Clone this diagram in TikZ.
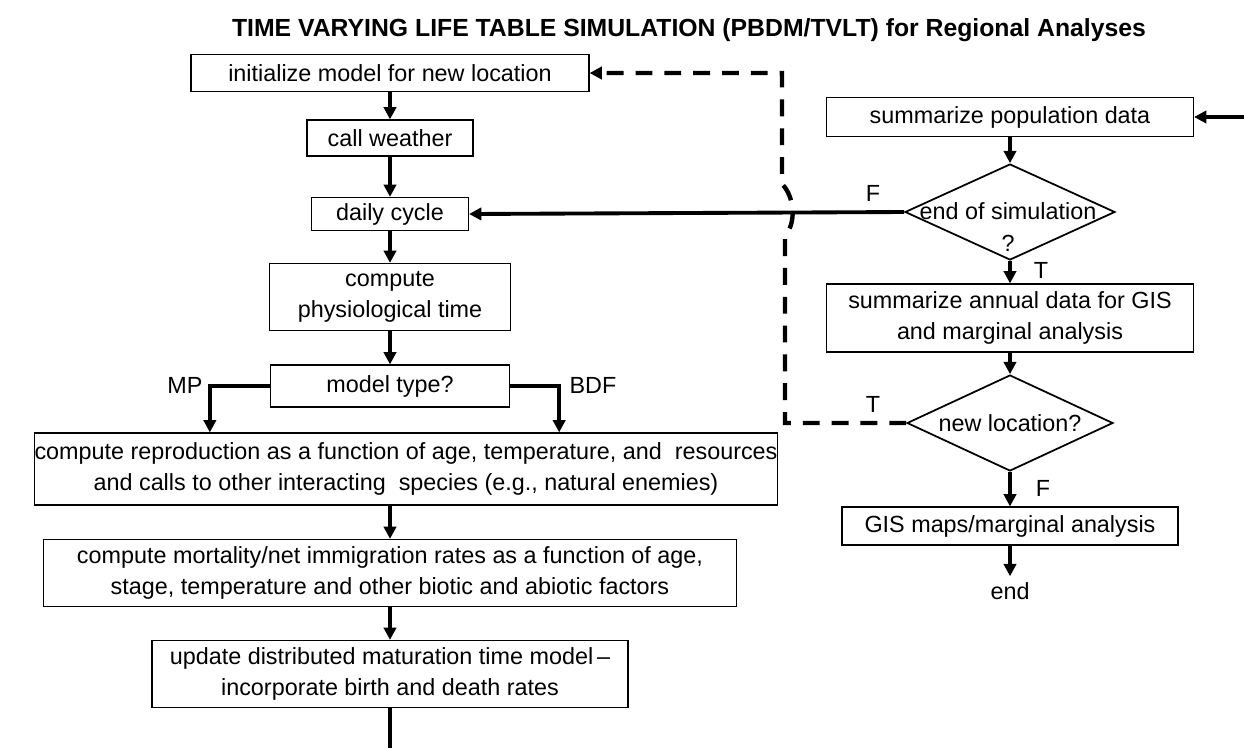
\documentclass[tikz,border=0pt]{standalone}
\usepackage{fontspec}
\setmainfont{Liberation Sans}
\usetikzlibrary{arrows.meta,shapes.geometric}

\begin{document}
\begin{tikzpicture}[x=0.02cm, y=-0.02cm,
  font=\fontsize{13.3}{18}\selectfont,
  box/.style={draw, line width=0.7pt, align=center, inner sep=0pt},
  decision/.style={draw, diamond, line width=1pt, inner sep=0pt,
    minimum width=4.2cm, minimum height=1.92cm},
  flow/.style={line width=2.2pt, -{Triangle[width=7pt,length=7pt]}},
  loop/.style={line width=2.5pt, dash pattern=on 9.6pt off 6.8pt,
    -{Triangle[width=7pt,length=7pt]}},
  tag/.style={inner sep=0pt}]
\useasboundingbox (0,0) rectangle (1244,748);

% title
\node (title) at (689,30) {\bfseries\fontsize{14.1}{17}\selectfont
  TIME VARYING LIFE TABLE SIMULATION (PBDM/TVLT) for Regional Analyses};

% daily loop, left column
\node[box, minimum width=7.96cm, minimum height=0.74cm] (init) at (390,73) {initialize model for new location};
\node[box, minimum width=3.32cm, minimum height=0.72cm] (weather) at (390,138) {call weather};
\node[box, minimum width=3.14cm, minimum height=0.66cm] (daily) at (390,214) {daily cycle};
\node[box, minimum width=4.82cm, minimum height=1.34cm] (phys) at (390,297) {compute\\physiological time};
\node[box, minimum width=4.78cm, minimum height=0.84cm] (mtype) at (390,386) {model type?};
\node[box, minimum width=14.8cm, minimum height=1.44cm] (repro) at (406,469) {compute reproduction as a function of age, temperature, and~ resources\\and calls to other interacting~ species (e.g., natural enemies)};
\node[box, minimum width=13.86cm, minimum height=1.34cm] (mort) at (390,573) {compute mortality/net immigration rates as a function of age,\\stage, temperature and other biotic and abiotic factors};
\node[box, minimum width=9.52cm, minimum height=1.34cm] (update) at (390,674) {update distributed maturation time model\,--\\incorporate birth and death rates};
\node[tag] (mp) at (185,385) {MP};
\node[tag] (bdf) at (593,385) {BDF};

% end of day, right column
\node[box, minimum width=7.34cm, minimum height=0.78cm] (popsum) at (1010,117) {summarize population data};
\node[decision] (endsim) at (1010,212) {};
\node[tag, align=center] (endsimq) at (1008,227) {end of simulation\\?};
\node[box, minimum width=7.34cm, minimum height=1.36cm] (annual) at (1010,318) {summarize annual data for GIS\\and marginal analysis};
\node[decision, minimum width=4.12cm] (newloc) at (1010,423) {};
\node[tag] (newlocq) at (1010,423) {new location?};
\node[box, minimum width=6.72cm, minimum height=0.76cm] (gis) at (1010,526) {GIS maps/marginal analysis};
\node (stop) at (1010,591) {end};
\node[tag] (f1) at (873,193) {F};
\node[tag] (t1) at (1041,270) {T};
\node[tag] (t2) at (873,404) {T};
\node[tag] (f2) at (1043,488) {F};

\coordinate (feed) at (1244,117);
\coordinate (drop) at (390,748);
\coordinate (jtop) at (782,184);
\coordinate (jbot) at (785,236);

\draw [flow] (init) edge (weather);
\draw [flow] (weather) edge (daily);
\draw [flow] (daily) edge (phys);
\draw [flow] (phys) edge (mtype);
\draw [flow] (mtype.west) -| ([xshift=3.52cm]repro.north west);
\draw [flow] (mtype.east) -| ([xshift=-4.38cm]repro.north east);
\draw [flow] (repro.south -| mort.north) -- (mort.north);
\draw [flow] (mort) edge (update);
\draw [line width=2.2pt] (update.south) -- (drop);

\draw [flow] (feed) -- (popsum);
\draw [flow] (popsum) edge (endsim);
\draw [flow] (endsim.west) -- (daily.east);
\draw [flow] (endsim) edge (annual);
\draw [flow] (annual) edge (newloc);
\draw [flow] (newloc) edge (gis);
\draw [flow] (gis) edge (stop);

% back to a new location, jumping the F line
\draw [loop] (newloc.west) -| (jbot) .. controls (797,222) and (794,196) .. (jtop) |- (init.east);
\end{tikzpicture}
\end{document}
